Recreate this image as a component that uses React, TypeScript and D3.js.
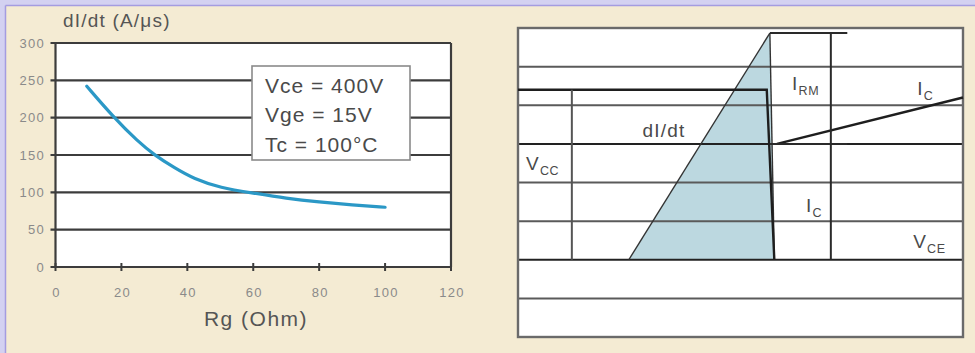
import React from 'react';
import * as d3 from 'd3';

// ---- Left chart data ----
const rgOhm = [9.5, 17.5, 25, 30, 36, 42, 50, 60, 70, 80, 90, 100];
const didtValues = [242, 201, 168, 150, 133, 118, 106, 99, 92, 87, 83, 80];
const xTicks = [0, 20, 40, 60, 80, 100, 120];
const yTicks = [0, 50, 100, 150, 200, 250, 300];
const legendLines = ['Vce = 400V', 'Vge = 15V', 'Tc = 100°C'];
const yTitle = 'dI/dt (A/μs)';
const xTitle = 'Rg (Ohm)';

// ---- Right schematic data (time units 0..100, level units 0..8) ----
const bandLevels = [1, 2, 3, 4, 5, 6, 7];
const triangleT = [24.9, 56.6, 57.6];
const triangleL = [2, 7.87, 2];
const vccT = [0, 55.9, 57.6];
const vccL = [6.4, 6.4, 2];
const icT = [58.2, 100];
const icL = [5, 6.2];
const markerT = [56.6, 74];
const markerLevels = [7.87, 5];
const irmSpanT = 70.3;
const irmSpanL = [7.87, 2];
const vccSpanT = 12.1;
const vccSpanL = [6.4, 2];
const schematicLabels = [
  { main: 'V', sub: 'CC', t: 1.8, level: 4.33 },
  { main: 'dI/dt', sub: '', t: 28, level: 5.18 },
  { main: 'I', sub: 'RM', t: 61.6, level: 6.4 },
  { main: 'I', sub: 'C', t: 89.7, level: 6.27 },
  { main: 'I', sub: 'C', t: 64.7, level: 3.24 },
  { main: 'V', sub: 'CE', t: 88.8, level: 2.3 },
];

const FONT = 'Liberation Sans, Arial, sans-serif';

export default function App() {
  const W = 975, H = 353;
  // left chart scales
  const x = d3.scaleLinear().domain([0, 120]).range([55.5, 451]);
  const y = d3.scaleLinear().domain([0, 300]).range([267, 43]);
  const line = d3
    .line<number>()
    .x((_, i) => x(rgOhm[i]))
    .y((d) => y(d))
    .curve(d3.curveBasis);

  // right schematic scales
  const tx = d3.scaleLinear().domain([0, 100]).range([518, 963]);
  const ly = d3.scaleLinear().domain([0, 8]).range([337, 28]);
  const poly = (ts: number[], ls: number[]) =>
    d3.line<number>().x((t) => tx(t)).y((_, i) => ly(ls[i]))(ts) as string;

  return (
    <svg
      width={W}
      height={H}
      style={{ position: 'absolute', left: 0, top: 0, display: 'block' }}
      fontFamily={FONT}
    >
      {/* page background */}
      <rect x={0} y={0} width={W} height={H} fill="#d3d1f1" />
      <rect x={6} y={6} width={W - 6} height={H - 6} fill="#f4ebd3" />
      <line x1={5.5} y1={5.5} x2={W} y2={5.5} stroke="#a49ce0" strokeWidth={1.5} />
      <line x1={5.5} y1={5.5} x2={5.5} y2={H} stroke="#a49ce0" strokeWidth={1.5} />

      {/* ---------- Left chart ---------- */}
      <rect x={x(0)} y={y(300)} width={x(120) - x(0)} height={y(0) - y(300)} fill="#ffffff" />
      {yTicks.map((v) => (
        <line
          key={'g' + v}
          x1={x(0) - 5}
          x2={x(120)}
          y1={y(v)}
          y2={y(v)}
          stroke="#3c3c3c"
          strokeWidth={2.2}
        />
      ))}
      <line x1={x(0)} x2={x(0)} y1={y(300)} y2={y(0)} stroke="#3c3c3c" strokeWidth={2.2} />
      <line x1={x(120)} x2={x(120)} y1={y(300)} y2={y(0)} stroke="#3c3c3c" strokeWidth={2.2} />
      {xTicks.map((v) => (
        <line key={'t' + v} x1={x(v)} x2={x(v)} y1={y(0) - 4} y2={y(0) + 4} stroke="#3c3c3c" strokeWidth={2} />
      ))}
      {yTicks.map((v) => (
        <text
          key={'yl' + v}
          x={45}
          y={y(v)}
          dy="0.36em"
          textAnchor="end"
          fontSize={13}
          letterSpacing={1.3}
          fill="#8a8a8a"
        >
          {v}
        </text>
      ))}
      {xTicks.map((v) => (
        <text
          key={'xl' + v}
          x={x(v) + 1}
          y={297}
          textAnchor="middle"
          fontSize={13}
          letterSpacing={1.3}
          fill="#8a8a8a"
        >
          {v}
        </text>
      ))}
      <path d={line(didtValues) as string} fill="none" stroke="#2b98c6" strokeWidth={3.2} strokeLinecap="round" />

      {/* legend */}
      <rect x={252} y={66} width={158} height={94} fill="#ffffff" stroke="#8a8a8a" strokeWidth={1.6} />
      {legendLines.map((s, i) => (
        <text key={s} x={265} y={93 + i * 29.3} fontSize={21} letterSpacing={1} fill="#4a4a4a">
          {s}
        </text>
      ))}

      <text x={63} y={27} fontSize={19} letterSpacing={1.2} fill="#555555">
        {yTitle}
      </text>
      <text x={256} y={326} textAnchor="middle" fontSize={21} letterSpacing={1.5} fill="#555555">
        {xTitle}
      </text>

      {/* ---------- Right schematic ---------- */}
      <rect x={tx(0)} y={ly(8)} width={tx(100) - tx(0)} height={ly(0) - ly(8)} fill="#ffffff" />
      <path
        d={poly(triangleT, triangleL) + 'Z'}
        fill="#bcd8e0"
        stroke="none"
      />
      {bandLevels.map((l) => (
        <line
          key={'b' + l}
          x1={tx(0)}
          x2={tx(100)}
          y1={ly(l)}
          y2={ly(l)}
          stroke={l === 2 || l === 5 ? '#222222' : '#5a5a5a'}
          strokeWidth={2}
        />
      ))}
      <rect
        x={tx(0)}
        y={ly(8)}
        width={tx(100) - tx(0)}
        height={ly(0) - ly(8)}
        fill="none"
        stroke="#6a6a6a"
        strokeWidth={2.4}
      />
      {/* dI/dt edges */}
      <path d={poly(triangleT.slice(0, 2), triangleL.slice(0, 2))} stroke="#333" strokeWidth={1.4} fill="none" />
      <path d={poly(triangleT.slice(1), triangleL.slice(1))} stroke="#333" strokeWidth={1.4} fill="none" />
      {/* Vcc waveform */}
      <path d={poly(vccT, vccL)} stroke="#1e1e1e" strokeWidth={2.4} fill="none" />
      {/* Ic waveform */}
      <path d={poly(icT, icL)} stroke="#1e1e1e" strokeWidth={2.4} fill="none" />
      {/* IRM markers */}
      {markerLevels.map((l) => (
        <line key={'m' + l} x1={tx(markerT[0])} x2={tx(markerT[1])} y1={ly(l)} y2={ly(l)} stroke="#2a2a2a" strokeWidth={2} />
      ))}
      <line x1={tx(irmSpanT)} x2={tx(irmSpanT)} y1={ly(irmSpanL[0])} y2={ly(irmSpanL[1])} stroke="#2a2a2a" strokeWidth={2} />
      <line x1={tx(vccSpanT)} x2={tx(vccSpanT)} y1={ly(vccSpanL[0])} y2={ly(vccSpanL[1])} stroke="#555555" strokeWidth={2} />

      {schematicLabels.map((lb, i) => (
        <text key={'sl' + i} x={tx(lb.t)} y={ly(lb.level)} fontSize={19} letterSpacing={1.2} fill="#4a4a4a">
          {lb.main}
          {lb.sub ? (
            <tspan fontSize={12.5} dy={5} letterSpacing={0.6}>
              {lb.sub}
            </tspan>
          ) : null}
        </text>
      ))}
    </svg>
  );
}
